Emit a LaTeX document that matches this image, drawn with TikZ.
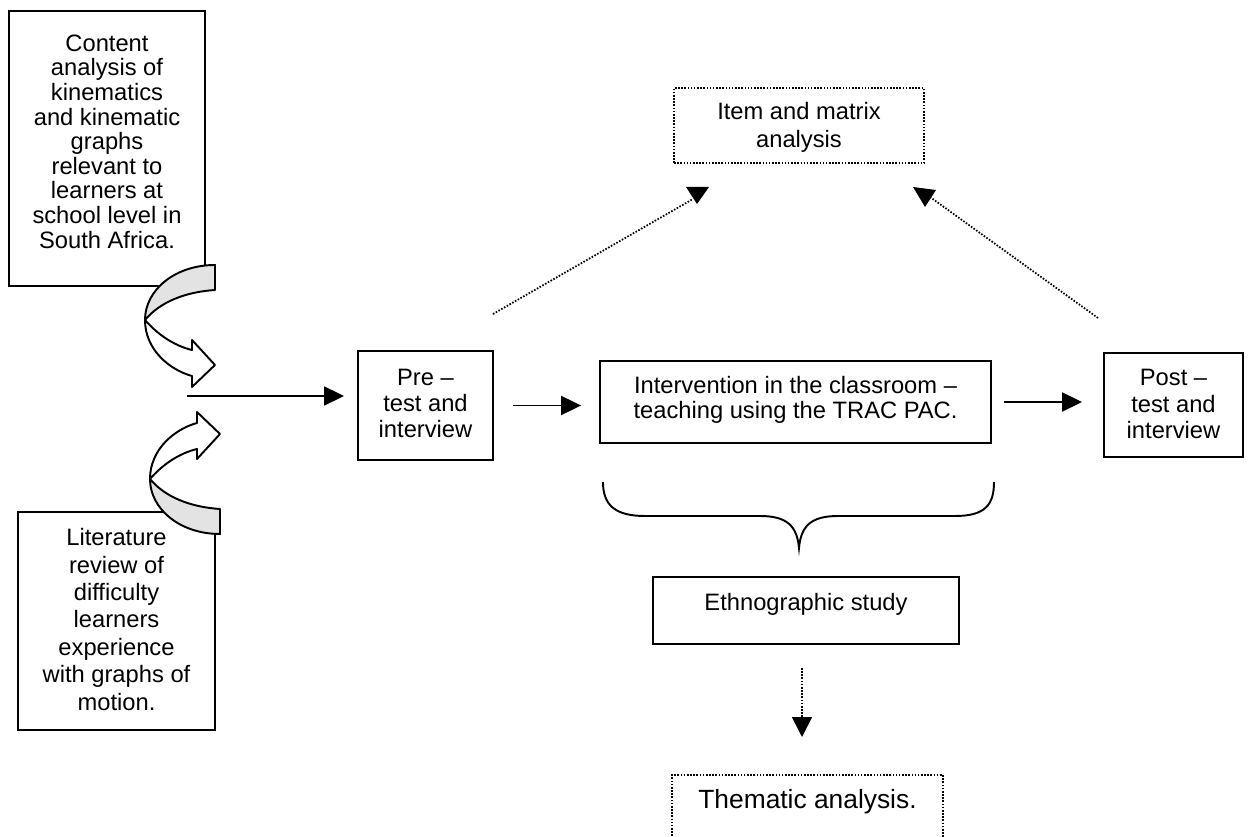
\documentclass[tikz,border=0pt]{standalone}
\usepackage{fontspec}
\setmainfont{Liberation Sans}
\usetikzlibrary{arrows.meta}

% Curved ribbon arrow (grey back face + white front with head), in pixel units
\newcommand\curvedribbon{%
  \filldraw[ribbon, fill=gray!22] (215,265) .. controls (175,265) and (145,290) .. (145,320)
     .. controls (160,302) and (185,292) .. (215,290) -- cycle;
  \filldraw[ribbon, fill=white] (145,320) .. controls (158,335) and (175,346) .. (192,350)
     -- (192,340) -- (215,365) -- (192,387) -- (192,376)
     .. controls (170,370) and (145,350) .. (145,320) -- cycle;
}

\begin{document}
\begin{tikzpicture}[x=0.02cm, y=-0.02cm,
  box/.style={draw, line width=1.1pt, fill=white, inner sep=0pt},
  dotbox/.style={draw, line width=1pt, dash pattern=on 0.9pt off 0.9pt, inner sep=0pt},
  txt/.style={align=center, inner sep=0pt},
  flow/.style={line width=1.1pt, -{Triangle[length=0.4cm,width=0.38cm]}},
  dotline/.style={line width=1pt, dash pattern=on 0.9pt off 0.9pt},
  ribbon/.style={draw, line width=1.1pt, line join=round}
]
\useasboundingbox (0,0) rectangle (1248,837);

% ---- source boxes on the left
\node[box, minimum width=3.92cm, minimum height=5.5cm] (content) at (107,148.5) {};
\node[txt, font=\fontsize{13.5}{14}\selectfont] (contentText) at (107,141.5)
  {Content\\analysis of\\kinematics\\and kinematic\\graphs\\relevant to\\learners at\\school level in\\South Africa.};

\node[box, minimum width=3.94cm, minimum height=4.36cm] (lit) at (116.5,621) {};
\node[txt, font=\fontsize{13.5}{15.6}\selectfont] (litText) at (116.5,619.5)
  {Literature\\review of\\difficulty\\learners\\experience\\with graphs of\\motion.};

% ---- curved arrows merging into the main line
\curvedribbon
\begin{scope}[shift={(5,799)}, yscale=-1]
  \curvedribbon
\end{scope}

% ---- main sequence
\node[box, minimum width=2.7cm, minimum height=2.18cm] (pre) at (425.5,405.5) {};
\node[txt, font=\fontsize{13.5}{15}\selectfont] (preText) at (425.5,403.5)
  {Pre \textendash\\test and\\interview};

\node[box, minimum width=7.82cm, minimum height=1.64cm] (inter) at (795.5,402) {};
\node[txt, font=\fontsize{13.5}{14.2}\selectfont] (interText) at (795.5,399.5)
  {Intervention in the classroom \textendash\\teaching using the TRAC PAC.};

\node[box, minimum width=2.78cm, minimum height=2.08cm] (post) at (1173.5,405) {};
\node[txt, font=\fontsize{13.5}{15}\selectfont] (postText) at (1173.5,404)
  {Post \textendash\\test and\\interview};

\coordinate (join) at (187,396);
\draw[flow, shorten >=0.26cm] (join) -- (join -| pre.west);
\draw[flow, shorten <=0.38cm, shorten >=0.36cm] (pre.east) -- (pre.east -| inter.west);
\draw[flow, shorten <=0.24cm, shorten >=0.42cm] (inter.east) -- (inter.east -| post.west);

% ---- analysis box above
\node[dotbox, minimum width=5cm, minimum height=1.5cm] (item) at (799,125.5) {};
\node[txt, font=\fontsize{13.5}{16.2}\selectfont] (itemText) at (799,127.5)
  {Item and matrix\\analysis};

\coordinate (preUp) at (493,314);
\coordinate (itemL) at (693,199);
\draw[dotline] (preUp) -- (itemL);
\fill (686,187) -- (709,187) -- (697,204) -- cycle;

\coordinate (postUp) at (1098,318);
\coordinate (itemR) at (930,197);
\draw[dotline] (postUp) -- (itemR);
\fill (913,187) -- (936,190) -- (925,207) -- cycle;

% ---- brace under the intervention
\draw[line width=1.1pt] (603,482) .. controls (603,505) and (615,516) .. (645,516) -- (760,516)
  .. controls (787,516) and (797,526) .. (799,548)
  .. controls (801,526) and (811,516) .. (838,516) -- (955,516)
  .. controls (985,516) and (994,505) .. (994,482);

% ---- ethnographic study and thematic analysis
\node[box, minimum width=6.12cm, minimum height=1.34cm] (ethno) at (806,610.5) {};
\node[txt, font=\fontsize{13.5}{14}\selectfont] (ethnoText) at (806,604) {Ethnographic study};

\node[dotbox, minimum width=5.42cm, minimum height=1.7cm] (them) at (807.5,817.5) {};
\node[txt, font=\fontsize{15}{16}\selectfont] (themText) at (807.5,802) {Thematic analysis.};

\coordinate (ethDot) at (802,668);
\coordinate (themDot) at (802,737);
\draw[dotline, -{Triangle[length=0.4cm,width=0.4cm]}] (ethDot) -- (themDot);

\end{tikzpicture}
\end{document}
